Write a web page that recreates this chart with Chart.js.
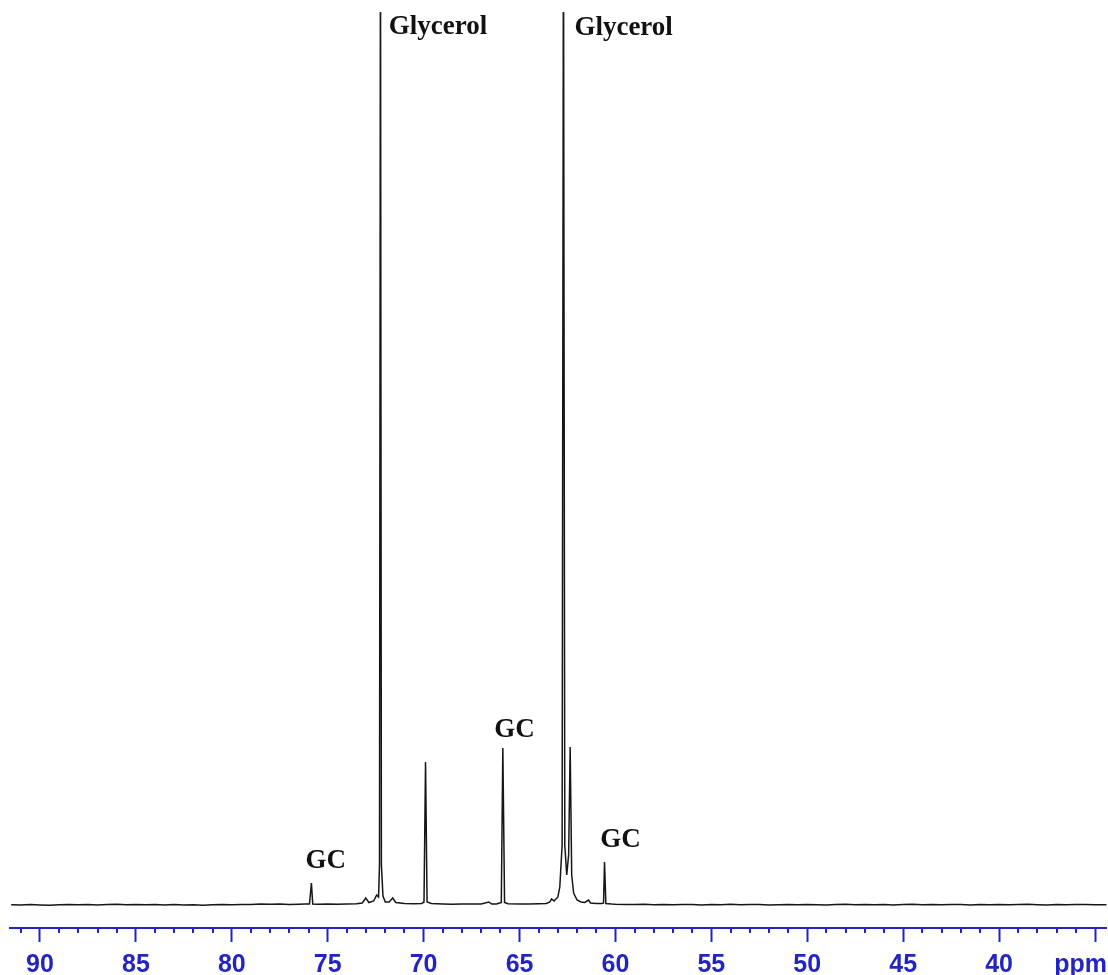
<!DOCTYPE html>
<html>
<head>
<meta charset="utf-8">
<script src="https://cdn.jsdelivr.net/npm/chart.js@4"></script>
<style>
  html, body { margin: 0; padding: 0; background: #ffffff; }
  canvas { display: block; }
</style>
</head>
<body>
<canvas id="c" width="1108" height="975"></canvas>
<script>
// Chemical shift (ppm), descending, and signal intensity (arbitrary units)
const shiftPpm = [
  91.5, 91.0, 90.5, 90.0, 89.5, 89.0, 88.5, 88.0, 87.5, 87.0,
  86.5, 86.0, 85.5, 85.0, 84.5, 84.0, 83.5, 83.0, 82.5, 82.0,
  81.5, 81.0, 80.5, 80.0, 79.5, 79.0, 78.5, 78.0, 77.5, 77.0,
  76.5, 76.2, 75.95, 75.85, 75.78, 75.5, 75.0, 74.5, 74.0, 73.5,
  73.2, 73.02, 72.85, 72.6, 72.45, 72.35, 72.3, 72.25, 72.2, 72.12,
  72.0, 71.8, 71.61, 71.45, 71.0, 70.5, 70.1, 69.98, 69.9, 69.82,
  69.6, 69.3, 69.0, 68.5, 68.0, 67.5, 67.0, 66.6, 66.45, 66.2,
  65.95, 65.87, 65.78, 65.6, 65.0, 64.5, 64.0, 63.6, 63.42, 63.33,
  63.2, 63.0, 62.9, 62.78, 62.71, 62.64, 62.54, 62.44, 62.36, 62.28,
  62.18, 62.0, 61.8, 61.6, 61.4, 61.3, 61.0, 60.7, 60.62, 60.57,
  60.5, 60.2, 60.0, 59.5, 59.0, 58.5, 58.0, 57.5, 57.0, 56.5,
  56.0, 55.5, 55.0, 54.5, 54.0, 53.5, 53.0, 52.5, 52.0, 51.5,
  51.0, 50.5, 50.0, 49.5, 49.0, 48.5, 48.0, 47.5, 47.0, 46.5,
  46.0, 45.5, 45.0, 44.5, 44.0, 43.5, 43.0, 42.5, 42.0, 41.5,
  41.0, 40.5, 40.0, 39.5, 39.0, 38.5, 38.0, 37.5, 37.0, 36.5,
  36.0, 35.5, 35.0, 34.4
];
const intensity = [
  0.3, 0.0, 0.4, 0.1, -0.2, 0.3, 0.5, 0.2, 0.6, 0.1,
  0.4, 0.8, 0.3, 0.5, 0.2, 0.6, 0.1, 0.4, 0.0, 0.3,
  -0.2, 0.2, 0.5, 0.3, 0.6, 0.4, 0.9, 0.7, 1.0, 0.6,
  0.8, 0.9, 1.0, 22, 1.0, 0.8, 0.9, 0.7, 1.0, 1.2,
  2.0, 7, 2.5, 4, 10, 8, 40, 1000, 40, 9,
  3, 3, 7, 2.5, 1.5, 1.2, 1.5, 3, 143, 3,
  1.5, 1.2, 1.0, 0.8, 1.0, 0.9, 1.1, 3, 1.0, 1.0,
  2.5, 157, 2.5, 1.2, 0.9, 1.0, 1.2, 1.5, 3, 6,
  4, 8, 18, 60, 1000, 60, 30, 50, 158, 30,
  12, 5, 3, 2.5, 5, 2, 1.5, 1.5, 2, 43,
  1.5, 1.0, 0.8, 0.6, 0.4, 0.7, 0.3, 0.5, 0.2, 0.6,
  0.4, 0.1, 0.5, 0.3, 0.7, 0.2, 0.4, 0.6, 0.1, 0.3,
  0.5, 0.2, 0.6, 0.3, 0.0, 0.4, 0.7, 0.2, 0.5, 0.3,
  0.6, 0.1, 0.4, 0.8, 0.3, 0.5, 0.2, 0.6, 0.4, 0.1,
  0.5, 0.3, 0.6, 0.2, 0.4, 0.7, 0.3, 0.1, 0.5, 0.2,
  0.4, 0.6, 0.3, 0.2
];
// Peak assignment labels
const labelTexts = ['Glycerol', 'Glycerol', 'GC', 'GC', 'GC'];
const labelPpm   = [71.82, 62.14, 75.10, 65.26, 59.74];
const labelLevel = [871, 870, 37, 168, 58];
const labelAlign = ['left', 'left', 'center', 'center', 'center'];

const X_MIN = 34.375, X_MAX = 91.5625;
const Y_MIN = -23, Y_MAX = 893;
const BLUE = '#2424c4';
const AXIS_FONT = { family: '"Liberation Sans", Arial, sans-serif', size: 25, weight: 'bold', lineHeight: 0.8 };

const points = shiftPpm.map((p, i) => ({ x: p, y: intensity[i] }));

const extras = {
  id: 'extras',
  afterDraw(chart) {
    const ctx = chart.ctx;
    const xs = chart.scales.x, ys = chart.scales.y;
    const area = chart.chartArea;
    ctx.save();
    // minor ticks every 1 ppm
    ctx.strokeStyle = BLUE;
    ctx.lineWidth = 2;
    for (let v = Math.ceil(X_MIN); v <= Math.floor(X_MAX); v++) {
      if (v % 5 === 0) continue;
      const px = Math.round(xs.getPixelForValue(v));
      ctx.beginPath();
      ctx.moveTo(px, area.bottom);
      ctx.lineTo(px, area.bottom + 5);
      ctx.stroke();
    }
    // unit label
    ctx.fillStyle = BLUE;
    ctx.font = 'bold 25px "Liberation Sans", Arial, sans-serif';
    ctx.textAlign = 'right';
    ctx.textBaseline = 'middle';
    ctx.fillText('ppm', chart.width - 1, area.bottom + 14 + 13 + 10);
    // peak labels
    ctx.fillStyle = '#111111';
    ctx.font = 'bold 27px "Liberation Serif", "Times New Roman", serif';
    ctx.textBaseline = 'alphabetic';
    labelTexts.forEach((t, i) => {
      ctx.textAlign = labelAlign[i];
      ctx.fillText(t, xs.getPixelForValue(labelPpm[i]), ys.getPixelForValue(labelLevel[i]));
    });
    ctx.restore();
  }
};

new Chart(document.getElementById('c'), {
  type: 'line',
  data: {
    datasets: [{
      data: points,
      borderColor: '#161616',
      borderWidth: 1.5,
      pointRadius: 0,
      tension: 0,
      fill: false
    }]
  },
  options: {
    responsive: false,
    animation: false,
    events: [],
    layout: { padding: { top: 12, left: 10, right: 0, bottom: 0 } },
    plugins: { legend: { display: false }, tooltip: { enabled: false } },
    scales: {
      x: {
        type: 'linear',
        reverse: true,
        min: X_MIN,
        max: X_MAX,
        afterFit: s => { s.height = 47; },
        border: { display: true, color: BLUE, width: 2 },
        grid: { drawOnChartArea: false, drawTicks: true, tickLength: 14, tickWidth: 2, tickColor: BLUE },
        ticks: {
          stepSize: 5,
          includeBounds: false,
          autoSkip: false,
          maxRotation: 0,
          padding: 13,
          color: BLUE,
          font: AXIS_FONT,
          callback: v => (v === 35 ? '' : String(v))
        }
      },
      y: {
        display: false,
        min: Y_MIN,
        max: Y_MAX
      }
    }
  },
  plugins: [extras]
});
</script>
</body>
</html>
